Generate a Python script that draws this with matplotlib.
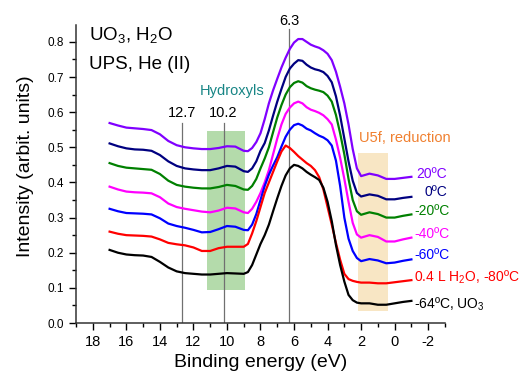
import matplotlib
matplotlib.use("Agg")
import matplotlib.pyplot as plt
from matplotlib.patches import Rectangle
from matplotlib.ticker import MultipleLocator

plt.rcParams['font.family'] = ['Liberation Sans', 'DejaVu Sans']
plt.rcParams['axes.unicode_minus'] = False

# binding energy grid (eV), finer where the spectra change fast
energy = [17, 16.5, 16, 15.5, 15, 14.5, 14, 13.5, 13, 12.5, 12, 11.5, 11, 10.5, 10, 9.5,
          9, 8.75, 8.5, 8.25, 8, 7.75, 7.5, 7.25, 7, 6.75, 6.5, 6.25, 6, 5.75, 5.5, 5.25,
          5, 4.75, 4.5, 4.25, 4, 3.75, 3.5, 3.25, 3, 2.75, 2.5, 2.25, 2,
          1.5, 1, 0.5, 0, -0.5, -1]

# spectra
s_20 = [0.569, 0.562, 0.556, 0.554, 0.552, 0.549, 0.537, 0.518, 0.506, 0.500, 0.497, 0.495, 0.495, 0.498, 0.503, 0.502,
        0.490, 0.489, 0.498, 0.515, 0.540, 0.580, 0.625, 0.662, 0.695, 0.727, 0.755, 0.780, 0.798, 0.808, 0.808, 0.800,
        0.792, 0.787, 0.783, 0.776, 0.766, 0.748, 0.715, 0.672, 0.625, 0.565, 0.495, 0.440, 0.418,
        0.425, 0.420, 0.410, 0.410, 0.413, 0.416]
s_0 = [0.511, 0.503, 0.497, 0.494, 0.493, 0.490, 0.478, 0.460, 0.447, 0.440, 0.437, 0.435, 0.435, 0.440, 0.447, 0.445,
       0.432, 0.430, 0.440, 0.460, 0.490, 0.512, 0.548, 0.590, 0.630, 0.666, 0.700, 0.724, 0.738, 0.748, 0.746, 0.735,
       0.727, 0.722, 0.719, 0.714, 0.703, 0.685, 0.645, 0.590, 0.525, 0.460, 0.405, 0.370, 0.360,
       0.366, 0.362, 0.352, 0.352, 0.356, 0.359]
s_m20 = [0.455, 0.447, 0.442, 0.440, 0.438, 0.436, 0.424, 0.405, 0.393, 0.388, 0.385, 0.383, 0.383, 0.387, 0.393, 0.390,
         0.380, 0.379, 0.390, 0.410, 0.440, 0.468, 0.500, 0.543, 0.585, 0.620, 0.650, 0.671, 0.683, 0.688, 0.684, 0.674,
         0.668, 0.664, 0.661, 0.657, 0.647, 0.630, 0.592, 0.540, 0.480, 0.410, 0.350, 0.318, 0.308,
         0.315, 0.310, 0.300, 0.300, 0.305, 0.309]
s_m40 = [0.388, 0.380, 0.374, 0.372, 0.371, 0.369, 0.358, 0.340, 0.330, 0.325, 0.321, 0.317, 0.315, 0.320, 0.328, 0.326,
         0.315, 0.313, 0.325, 0.345, 0.370, 0.400, 0.435, 0.480, 0.525, 0.565, 0.595, 0.613, 0.625, 0.630, 0.625, 0.614,
         0.607, 0.603, 0.598, 0.591, 0.580, 0.565, 0.522, 0.470, 0.410, 0.345, 0.285, 0.252, 0.243,
         0.250, 0.245, 0.232, 0.232, 0.238, 0.243]
s_m60 = [0.325, 0.318, 0.313, 0.312, 0.311, 0.309, 0.298, 0.283, 0.276, 0.271, 0.265, 0.258, 0.259, 0.267, 0.276, 0.274,
         0.265, 0.264, 0.280, 0.310, 0.350, 0.390, 0.422, 0.448, 0.472, 0.502, 0.530, 0.550, 0.563, 0.567, 0.562, 0.553,
         0.548, 0.540, 0.533, 0.528, 0.520, 0.505, 0.462, 0.390, 0.300, 0.240, 0.205, 0.185, 0.176,
         0.182, 0.178, 0.170, 0.172, 0.177, 0.181]
s_h2o = [0.260, 0.254, 0.250, 0.249, 0.248, 0.246, 0.238, 0.228, 0.224, 0.221, 0.215, 0.205, 0.205, 0.213, 0.217, 0.217,
         0.217, 0.225, 0.255, 0.290, 0.330, 0.370, 0.400, 0.430, 0.460, 0.488, 0.505, 0.498, 0.487, 0.475, 0.465, 0.455,
         0.447, 0.435, 0.415, 0.380, 0.330, 0.280, 0.228, 0.180, 0.140, 0.125, 0.120, 0.117, 0.115,
         0.115, 0.113, 0.113, 0.116, 0.119, 0.122]
s_uo3 = [0.208, 0.200, 0.195, 0.193, 0.192, 0.188, 0.174, 0.158, 0.147, 0.142, 0.140, 0.138, 0.138, 0.140, 0.142, 0.141,
         0.140, 0.145, 0.165, 0.195, 0.225, 0.250, 0.280, 0.318, 0.355, 0.390, 0.420, 0.440, 0.450, 0.447, 0.440, 0.430,
         0.422, 0.415, 0.407, 0.385, 0.345, 0.290, 0.222, 0.165, 0.118, 0.080, 0.065, 0.058, 0.056,
         0.056, 0.052, 0.052, 0.056, 0.060, 0.063]

spectra = [s_20, s_0, s_m20, s_m40, s_m60, s_h2o, s_uo3]
colors = ['#8000ff', '#000080', '#008000', '#ff00ff', '#0000ff', '#ff0000', '#000000']
labels = ['20ºC', '0ºC', '-20ºC', '-40ºC', '-60ºC',
          '0.4 L H$_\\mathregular{2}$O, -80ºC', '-64ºC, UO$_\\mathregular{3}$']
label_x = [-1.3, -1.77, -1.18, -1.18, -1.18, -1.18, -1.18]
label_y = [0.424, 0.373, 0.319, 0.253, 0.194, 0.131, 0.054]

# marked peaks
peaks = [12.7, 10.2, 6.3]
peak_tops = [0.57, 0.57, 0.837]
peak_text_y = [0.598, 0.598, 0.858]

# shaded regions (x0, x1, y0, y1)
hydroxyl_box = [11.2, 8.9, 0.095, 0.545]
u5f_box = [2.2, 0.37, 0.034, 0.484]

fig = plt.figure(figsize=(5.21, 3.73), dpi=100)
ax = fig.add_axes([0.146, 0.134, 0.708, 0.799])

ax.add_patch(Rectangle((hydroxyl_box[1], hydroxyl_box[2]), hydroxyl_box[0] - hydroxyl_box[1],
                       hydroxyl_box[3] - hydroxyl_box[2], color='#b4dbab', lw=0, zorder=1))
ax.add_patch(Rectangle((u5f_box[1], u5f_box[2]), u5f_box[0] - u5f_box[1],
                       u5f_box[3] - u5f_box[2], color='#f8e6c4', lw=0, zorder=1))

for p, top, ty in zip(peaks, peak_tops, peak_text_y):
    ax.plot([p, p], [0, top], color='#707070', lw=0.9, zorder=2)
    ax.text(p, ty, str(p), ha='center', va='center', fontsize=10.5, clip_on=False)

for s, c, lab, lx, ly in zip(spectra, colors, labels, label_x, label_y):
    ax.plot(energy, s, color=c, lw=1.6, zorder=3)
    ax.text(lx, ly, lab, color=c, ha='left', va='center', fontsize=10, clip_on=False)

ax.text(9.7, 0.66, 'Hydroxyls', color='#178585', ha='center', va='center', fontsize=10.5)
ax.text(2.1, 0.527, 'U5f, reduction', color='#f08030', ha='left', va='center', fontsize=10.5,
        clip_on=False)
ax.text(18.2, 0.817, 'UO$_\\mathregular{3}$, H$_\\mathregular{2}$O', ha='left', va='center', fontsize=13.5)
ax.text(18.2, 0.735, 'UPS, He (II)', ha='left', va='center', fontsize=13.5)

ax.set_xlim(19, -3)
ax.set_ylim(0, 0.848)
ax.xaxis.set_major_locator(MultipleLocator(2))
ax.xaxis.set_minor_locator(MultipleLocator(1))
ax.yaxis.set_major_locator(MultipleLocator(0.1))
ax.yaxis.set_minor_locator(MultipleLocator(0.05))
ax.yaxis.set_major_formatter(plt.FormatStrFormatter('%.1f'))
ax.tick_params(axis='x', which='major', labelsize=10.5, length=5, width=1, direction='out')
ax.tick_params(axis='y', which='major', labelsize=8.5, length=5, width=1, direction='out')
ax.tick_params(which='minor', length=3, width=1, direction='out')
for side in ['top', 'right']:
    ax.spines[side].set_visible(False)
for side in ['left', 'bottom']:
    ax.spines[side].set_linewidth(1.1)
    ax.spines[side].set_color('#333333')

ax.set_xlabel('Binding energy (eV)', fontsize=14, labelpad=4)
ax.set_ylabel('Intensity (arbit. units)', fontsize=14)
ax.yaxis.set_label_coords(-0.115, 0.527)

fig.savefig('out.png', dpi=100)
